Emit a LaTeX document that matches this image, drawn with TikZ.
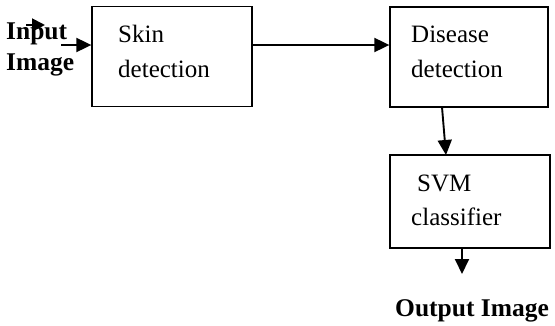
\documentclass[tikz,border=0pt]{standalone}
\usepackage{fontspec}
\setmainfont{Liberation Serif}
\usetikzlibrary{arrows.meta}
\begin{document}
\begin{tikzpicture}[x=1pt,y=-1pt,
  box/.style={draw,line width=1.3pt,minimum width=#1,inner sep=0pt},
  lbl/.style={anchor=base west,inner sep=0pt,font=\fontsize{25}{28}\selectfont},
  blbl/.style={anchor=base west,inner sep=0pt,font=\fontsize{25.5}{28}\selectfont\bfseries},
  arr/.style={line width=1.9pt,-{Triangle[length=15pt,width=14pt]}},
  sarr/.style={line width=1.9pt,-{Triangle[length=13pt,width=13pt]}}]
\useasboundingbox (0,0) rectangle (555,325);
% boxes
\node[box=160pt,minimum height=100pt] (skin) at (172,56.5) {};
\node[box=158pt,minimum height=100pt] (dis) at (469,57) {};
\node[box=160pt,minimum height=93pt] (svm) at (470,201.5) {};
% texts
\node[lbl] (t1) at (118,42) {Skin};
\node[lbl] (t2) at (118,77) {detection};
\node[lbl] (t3) at (411,42) {Disease};
\node[lbl] (t4) at (411,77) {detection};
\node[lbl] (t5) at (417,191) {SVM};
\node[lbl] (t6) at (411,225) {classifier};
\node[blbl] (in1) at (6,39) {Input};
\node[blbl] (in2) at (6,70) {Image};
\node[blbl] (out) at (395,316) {Output Image};
% coordinates
\coordinate (a0) at (26,25);
\coordinate (a1) at (45,25);
\coordinate (b0) at (61,45);
\coordinate (c0) at (442,107);
\coordinate (c1) at (446,155);
\coordinate (o0) at (462,248);
\coordinate (o1) at (462,274);
% arrows
\draw[sarr] (a0) -- (a1);
\draw[arr] (b0) -- (skin.west |- b0);
\draw[arr] (skin.east |- 0,45) -- (dis.west |- 0,45);
\draw[arr] (c0) -- (c1);
\draw[arr] (o0) -- (o1);
\end{tikzpicture}
\end{document}
